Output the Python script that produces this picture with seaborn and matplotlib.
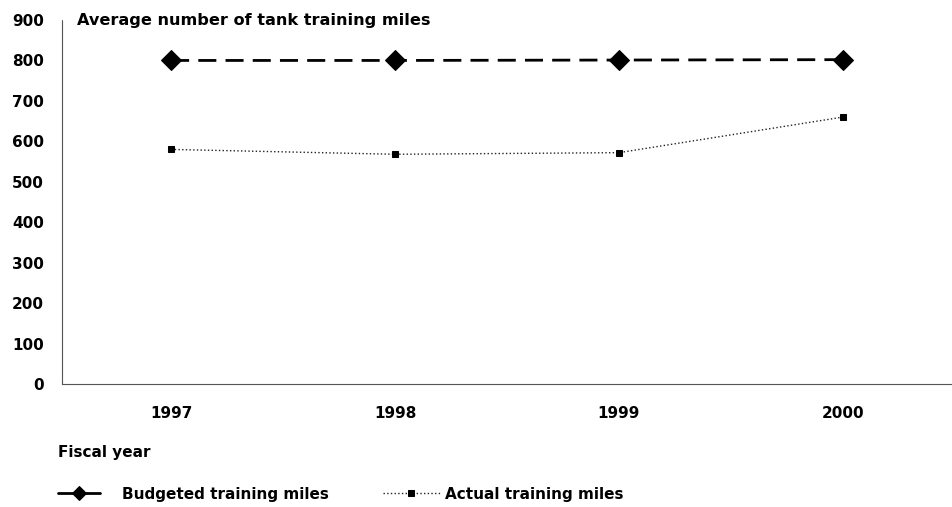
import numpy as np
import pandas as pd
import matplotlib.pyplot as plt
import seaborn as sns

# Data
years = ['1997', '1998', '1999', '2000']
budgeted = [800, 800, 801, 802]
actual = [580, 568, 572, 660]

sns.set_style('white')
plt.rcParams['font.family'] = ['DejaVu Sans']
plt.rcParams['font.weight'] = 'bold'
plt.rcParams['text.color'] = 'black'
plt.rcParams['xtick.color'] = 'black'
plt.rcParams['ytick.color'] = 'black'
FS = 11

df = pd.DataFrame({'year': years, 'Budgeted training miles': budgeted,
                   'Actual training miles': actual})

fig = plt.figure(figsize=(9.52, 5.07), dpi=100)
ax = fig.add_axes([62 / 952, 1 - 384 / 507, 1 - 62 / 952, (384 - 20) / 507])

sns.lineplot(data=df, x='year', y='Budgeted training miles', ax=ax, color='black',
             linestyle=(0, (6.5, 3.3)), linewidth=2.0, marker='D', markersize=10,
             markeredgecolor='black', label='Budgeted training miles')
sns.lineplot(data=df, x='year', y='Actual training miles', ax=ax, color='#222222',
             linestyle=':', linewidth=1.0, marker='s', markersize=5,
             markeredgecolor='black', markerfacecolor='black', label='Actual training miles')

ax.set_xlim(-0.487, 3.487)
ax.set_ylim(0, 900)
ax.set_yticks(range(0, 901, 100))
ax.tick_params(axis='both', length=0, labelsize=FS)
ax.tick_params(axis='x', pad=15.5)
ax.tick_params(axis='y', pad=13)
for lbl in ax.get_xticklabels() + ax.get_yticklabels():
    lbl.set_fontweight('bold')
ax.set_xlabel('')
ax.set_ylabel('')
sns.despine(ax=ax, top=True, right=True)
for side in ['left', 'bottom']:
    ax.spines[side].set_color('#555555')
    ax.spines[side].set_linewidth(0.8)
    ax.spines[side].set_linestyle((0, (1, 0.6)))

# Title inside plot area
fig.text(77 / 952, 1 - 20 / 507, 'Average number of tank training miles',
         fontsize=11.6, fontweight='bold', va='center', ha='left')
fig.text(58 / 952, 1 - 452 / 507, 'Fiscal year', fontsize=FS,
         fontweight='bold', va='center', ha='left')

handles, labels = ax.get_legend_handles_labels()
ax.get_legend().remove()

# two separate legend entries, spaced like the reference
leg1 = fig.legend(handles[:1], labels[:1], loc='center left',
                  bbox_to_anchor=(58 / 952, 1 - 494 / 507), frameon=False,
                  handlelength=2.75, handletextpad=1.45, borderpad=0, borderaxespad=0,
                  prop={'weight': 'bold', 'size': FS})
leg1.legend_handles[0].set_markersize(7)
leg1.legend_handles[0].set_linestyle('-')
leg2 = fig.legend(handles[1:], labels[1:], loc='center left',
                  bbox_to_anchor=(383 / 952, 1 - 494 / 507), frameon=False,
                  handlelength=3.7, handletextpad=0.35, borderpad=0, borderaxespad=0,
                  prop={'weight': 'bold', 'size': FS})
leg2.legend_handles[0].set_markersize(4)

plt.savefig('out.png', dpi=100)
